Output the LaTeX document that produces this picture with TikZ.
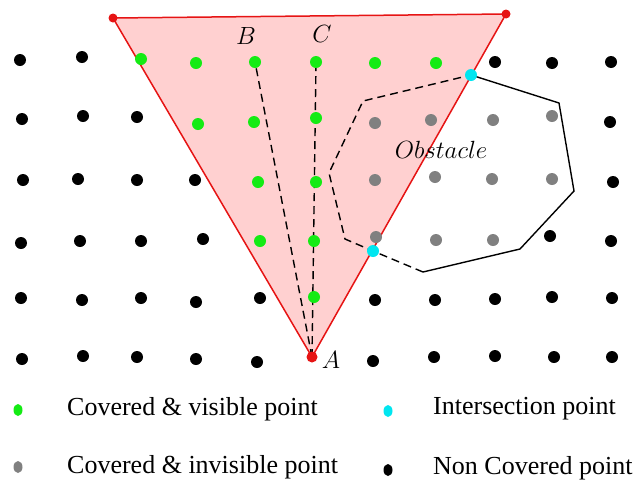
\documentclass[tikz,border=0pt]{standalone}
\usepackage{fontspec}
\newfontfamily\legendfont{Liberation Serif}
\usetikzlibrary{calc}
\definecolor{zonered}{RGB}{230,20,20}
\definecolor{zonefill}{RGB}{255,208,208}
\definecolor{visgreen}{RGB}{20,235,20}
\definecolor{invgray}{RGB}{128,128,128}
\definecolor{intercyan}{RGB}{0,230,240}

\begin{document}
\begin{tikzpicture}[x=1pt, y=-1pt,
    lbl/.style={font=\fontsize{26}{31}\selectfont, inner sep=0pt},
    legtext/.style={font=\legendfont\fontsize{26}{31}\selectfont, anchor=west, inner sep=0pt},
    hidden/.style={dash pattern=on 8pt off 5pt, line width=1.4pt}]
        \useasboundingbox (0,0) rectangle (644,480);

        % --- Zone couverte : triangle de sommet A ---
        \coordinate (A) at (312,357);
        \coordinate (TL) at (113,18);
        \coordinate (TR) at (506,14);
        \coordinate (B) at (255,62);
        \coordinate (C) at (316,62);
        \fill[zonefill] (A) -- (TL) -- (TR) -- cycle;

        % --- Rayons de visibilite ---
        \draw[hidden] (A) -- (B);
        \draw[hidden] (A) -- (C);

        % --- Obstacle ---
        \coordinate (I1) at (471,75);
        \coordinate (O2) at (559,103);
        \coordinate (O3) at (574,191);
        \coordinate (O4) at (520,249);
        \coordinate (O5) at (423,272);
        \coordinate (I2) at (373,251);
        \coordinate (O7) at (345,239);
        \coordinate (O8) at (329,173);
        \coordinate (O9) at (363,101);
        \draw[line width=1.4pt, line join=miter] (I1) -- (O2) -- (O3) -- (O4) -- (O5);
        \draw[hidden] (O5) -- (I2) -- (O7) -- (O8) -- (O9) -- (I1);

        % Bords du triangle
        \draw[zonered, line width=1.5pt] (A) -- (TL) -- (TR) -- cycle;

        % --- Points non couverts ---
        \foreach \x/\y in {20/60, 82/57, 495/62, 552/63, 611/62,
                           22/119, 83/116, 137/117, 610/122,
                           23/180, 78/179, 137/180, 195/180, 613/182,
                           21/243, 80/241, 141/241, 203/239, 550/236, 611/241,
                           21/298, 82/300, 141/298, 196/302, 260/298,
                           375/300, 435/300, 495/299, 552/297, 612/298,
                           22/359, 83/356, 137/357, 196/359, 257/362,
                           373/361, 434/357, 495/356, 554/357, 612/357} {
            \fill[black] (\x,\y) circle (6pt);
        }

        % --- Points couverts et visibles ---
        \foreach \x/\y in {141/59, 196/63, 255/62, 316/62, 375/63, 436/63,
                           198/124, 254/122, 316/118,
                           258/182, 316/182, 260/241, 314/241, 314/297} {
            \fill[visgreen] (\x,\y) circle (6pt);
        }

        % --- Points couverts et invisibles ---
        \foreach \x/\y in {375/123, 431/120, 493/120, 552/116,
                           375/180, 435/177, 492/179, 552/179,
                           376/237, 436/240, 493/240} {
            \fill[invgray] (\x,\y) circle (6pt);
        }

        % --- Intersections ---
        \fill[intercyan] (I1) circle (6pt);
        \fill[intercyan] (I2) circle (6pt);

        % Sommets
        \fill[zonered] (TL) circle (4.5pt);
        \fill[zonered] (TR) circle (4.5pt);
        \fill[zonered] (A) circle (5.5pt);

        % --- Etiquettes ---
        \node[lbl] (labB) at (246,36) {$B$};
        \node[lbl] (labC) at (322,34) {$C$};
        \node[lbl] (labA) at (331,360) {$A$};
        \node[lbl] (labObs) at (441,150) {$Obstacle$};

        % --- Legende ---
        \fill[visgreen] (18,410) ellipse (4.5pt and 6pt);
        \node[legtext] (legvis) at (67,409) {Covered \& visible point};
        \fill[intercyan] (388,411) ellipse (4.5pt and 6pt);
        \node[legtext] (leginter) at (433,409) {Intersection point};
        \fill[invgray] (18,467) ellipse (4.5pt and 6pt);
        \node[legtext] (leginv) at (67,467) {Covered \& invisible point};
        \fill[black] (388,470) ellipse (4.5pt and 6pt);
        \node[legtext] (legnon) at (433,468) {Non Covered point};
\end{tikzpicture}
\end{document}
